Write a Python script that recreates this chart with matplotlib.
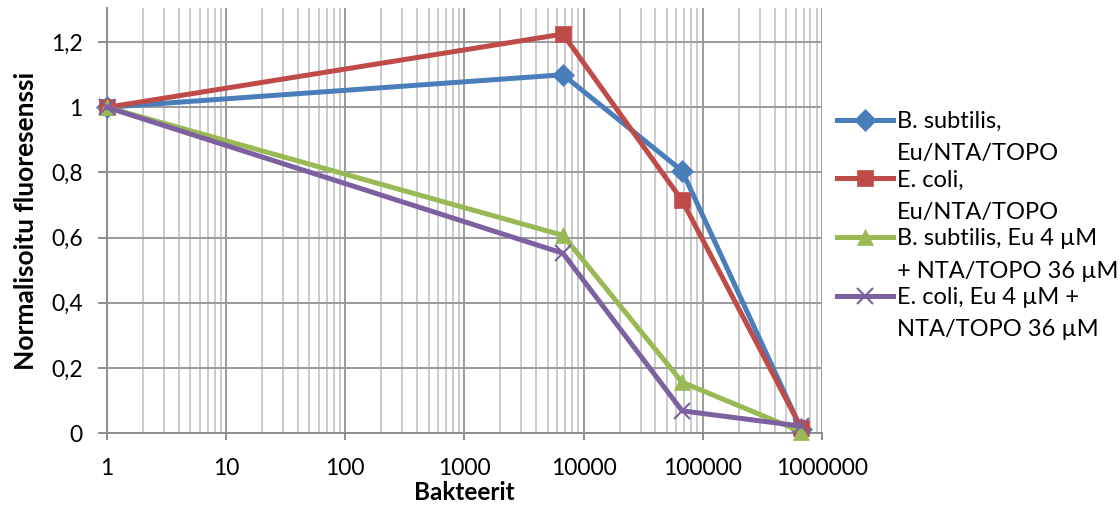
import matplotlib
matplotlib.use("Agg")
import matplotlib.pyplot as plt
import matplotlib.transforms as mtransforms
from matplotlib.ticker import LogLocator, FixedLocator, FuncFormatter, NullFormatter

plt.rcParams['font.family'] = ['Lato', 'DejaVu Sans']

bacteria = [1, 6700, 67000, 670000]
bs_eu_nta_topo = [1.0, 1.10, 0.805, 0.012]
ec_eu_nta_topo = [1.0, 1.225, 0.714, 0.015]
bs_eu4_nta36 = [1.0, 0.607, 0.156, 0.004]
ec_eu4_nta36 = [1.0, 0.552, 0.068, 0.021]

labels = ["B. subtilis,\nEu/NTA/TOPO",
          "E. coli,\nEu/NTA/TOPO",
          "B. subtilis, Eu 4 µM\n+ NTA/TOPO 36 µM",
          "E. coli, Eu 4 µM +\nNTA/TOPO 36 µM"]
xticks = [1, 10, 100, 1000, 10000, 100000, 1000000]
yticks = [0, 0.2, 0.4, 0.6, 0.8, 1.0, 1.2]

colors = ['#4A7EBB', '#BE4B48', '#98B954', '#7D60A0']
markers = ['D', 's', '^', 'x']
msizes = [11, 12, 11, 12]

fig = plt.figure(figsize=(11.2, 5.05), dpi=100)
ax = fig.add_axes([107/1120, 1-433/505, (822-107)/1120, (433-8)/505])

series = [bs_eu_nta_topo, ec_eu_nta_topo, bs_eu4_nta36, ec_eu4_nta36]
for s, c, m, ms, lab in zip(series, colors, markers, msizes, labels):
    ax.plot(bacteria, s, color=c, lw=3.6, marker=m, markersize=ms,
            markeredgewidth=1.5 if m == 'x' else 0.5, markeredgecolor=c,
            markerfacecolor=c, label=lab, zorder=3, clip_on=False)

ax.set_xscale('log')
ax.set_xlim(1, 1000000)
ax.set_ylim(0, 1.305)
ax.xaxis.set_major_locator(FixedLocator(xticks))
ax.xaxis.set_major_formatter(FuncFormatter(lambda v, p: f"{int(round(v))}"))
ax.xaxis.set_minor_locator(LogLocator(base=10, subs=range(2, 10), numticks=20))
ax.xaxis.set_minor_formatter(NullFormatter())
ax.yaxis.set_major_locator(FixedLocator(yticks))
ax.yaxis.set_major_formatter(FuncFormatter(lambda v, p: (f"{v:.1f}".rstrip('0').rstrip('.')).replace('.', ',')))

ax.grid(True, which='major', axis='both', color='#9a9a9a', lw=1.4, zorder=0)
ax.grid(True, which='minor', axis='x', color='#bdbdbd', lw=1.1, zorder=0)
ax.set_axisbelow(True)

for sp in ['top', 'right']:
    ax.spines[sp].set_visible(False)
for sp in ['left', 'bottom']:
    ax.spines[sp].set_color('#8c8c8c')
    ax.spines[sp].set_linewidth(1.4)

ax.tick_params(axis='x', which='major', length=5, width=1.4, color='#8c8c8c',
               labelsize=16.5, pad=13, direction='out')
ax.tick_params(axis='x', which='minor', length=0)
ax.tick_params(axis='y', which='major', length=6.5, width=1.4, color='#8c8c8c',
               labelsize=16.5, pad=11, direction='out')

ax.set_xlabel("Bakteerit", fontsize=17.5, fontweight='bold', labelpad=1.5)
ax.set_ylabel("Normalisoitu fluoresenssi", fontsize=19, fontweight='bold', labelpad=9)

LFS = 17
leg = ax.legend(loc='upper left', bbox_to_anchor=(837/1120, 1-111/505),
                bbox_transform=fig.transFigure, frameon=False, fontsize=LFS,
                handlelength=2.37, handletextpad=0.17, borderpad=0, borderaxespad=0,
                labelspacing=0.22)
for t in leg.get_texts():
    t.set_linespacing(1.67)
fig.canvas.draw()
off = mtransforms.ScaledTranslation(0, 13/72, fig.dpi_scale_trans)
for h in leg.legend_handles:
    h.set_transform(h.get_transform() + off)

fig.savefig("out.png", dpi=100)
